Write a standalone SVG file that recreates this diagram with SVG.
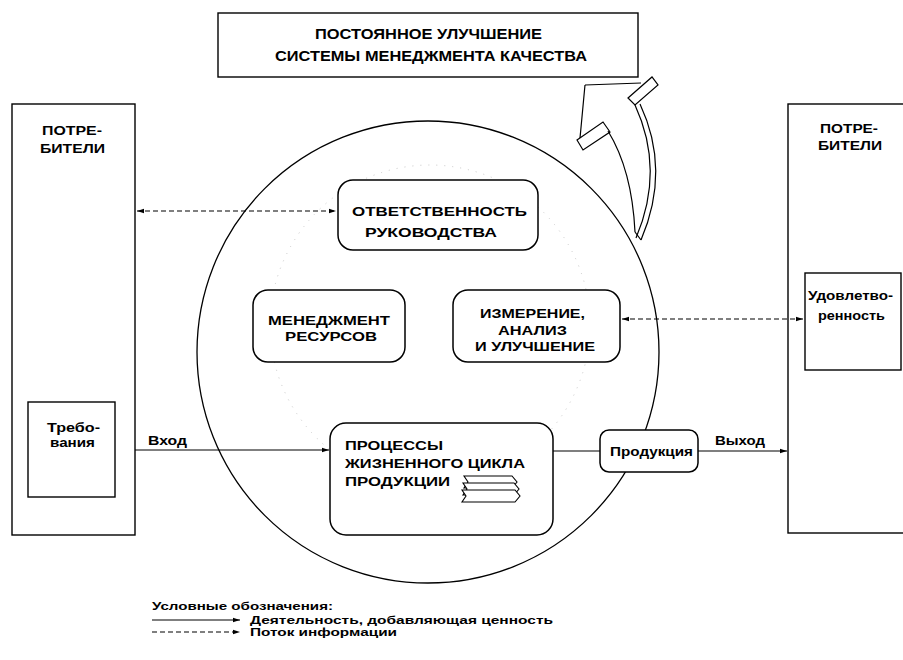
<svg xmlns="http://www.w3.org/2000/svg" width="903" height="660" viewBox="0 0 903 660">
<defs>
<marker id="ah" markerWidth="8" markerHeight="6" refX="7" refY="3" orient="auto" markerUnits="userSpaceOnUse">
<path d="M0,0.8 L7,3 L0,5.2 Z" fill="#000"/>
</marker>
<marker id="as" markerWidth="8" markerHeight="6" refX="1" refY="3" orient="auto" markerUnits="userSpaceOnUse">
<path d="M8,0.8 L1,3 L8,5.2 Z" fill="#000"/>
</marker>
</defs>
<style>
text{font-family:"Liberation Sans","Arial",sans-serif;font-weight:bold;fill:#000;}
.big{font-size:14px;}
.mid{font-size:13px;}
.sm{font-size:12px;}
.lg{font-size:10.5px;}
.box{fill:#fff;stroke:#000;stroke-width:1.4;}
.rbox{fill:#fff;stroke:#000;stroke-width:1.5;}
.ln{fill:none;stroke:#000;stroke-width:1.2;}
.dash{fill:none;stroke:#000;stroke-width:1.2;stroke-dasharray:5,3;}
.arr{fill:none;stroke:#000;stroke-width:1.2;}
</style>
<rect width="903" height="660" fill="#fff"/>

<g id="circle">
<circle cx="428" cy="352" r="231" fill="none" stroke="#000" stroke-width="1.3"/>
<circle cx="430" cy="325" r="160" fill="none" stroke="#c8c8c8" stroke-width="1" stroke-dasharray="1,7"/>
</g>

<g id="improvement-arrow">
<path class="arr" d="M585,85 L641,83"/>
<path class="arr" d="M585,85 L580,138"/>
<path class="arr" d="M628,98 L652,77 L658,85 L635,105 Z"/>
<path class="arr" d="M577,140 L603,122 L610,132 L583,150 Z"/>
<path class="arr" d="M608,131 Q632,170 635,232"/>
<path class="arr" d="M635,105 Q665,170 636,238"/>
<path class="arr" d="M640,104 Q671,170 641,240"/>
<path class="arr" d="M635,232 L641,240"/>
</g>

<g id="top-box">
<rect class="box" x="218" y="13" width="420" height="64"/>
<text class="big" x="315" y="39" textLength="227" lengthAdjust="spacingAndGlyphs">ПОСТОЯННОЕ УЛУЧШЕНИЕ</text>
<text class="big" x="275" y="61" textLength="312" lengthAdjust="spacingAndGlyphs">СИСТЕМЫ МЕНЕДЖМЕНТА КАЧЕСТВА</text>
</g>

<g id="customers-left">
<rect class="box" x="12" y="104" width="123" height="431"/>
<text class="mid" x="42" y="135" textLength="60" lengthAdjust="spacingAndGlyphs">ПОТРЕ-</text>
<text class="mid" x="40" y="153" textLength="65" lengthAdjust="spacingAndGlyphs">БИТЕЛИ</text>
</g>

<g id="requirements">
<rect class="box" x="28" y="402" width="87" height="95"/>
<text class="mid" x="47" y="432" textLength="53" lengthAdjust="spacingAndGlyphs">Требо-</text>
<text class="mid" x="50" y="447" textLength="45" lengthAdjust="spacingAndGlyphs">вания</text>
</g>

<g id="customers-right">
<rect class="box" x="788" y="104" width="130" height="429"/>
<text class="mid" x="820" y="133" textLength="58" lengthAdjust="spacingAndGlyphs">ПОТРЕ-</text>
<text class="mid" x="818" y="150" textLength="64" lengthAdjust="spacingAndGlyphs">БИТЕЛИ</text>
</g>

<g id="satisfaction">
<rect class="box" x="805" y="273" width="96" height="97"/>
<text class="sm" x="808" y="300" textLength="85" lengthAdjust="spacingAndGlyphs">Удовлетво-</text>
<text class="sm" x="818" y="320" textLength="67" lengthAdjust="spacingAndGlyphs">ренность</text>
</g>

<g id="management-responsibility">
<rect class="rbox" x="338" y="180" width="200" height="70" rx="15"/>
<text class="mid" x="352" y="216" textLength="175" lengthAdjust="spacingAndGlyphs">ОТВЕТСТВЕННОСТЬ</text>
<text class="mid" x="365" y="237" textLength="132" lengthAdjust="spacingAndGlyphs">РУКОВОДСТВА</text>
</g>

<g id="resource-management">
<rect class="rbox" x="253" y="290" width="152" height="72" rx="15"/>
<text class="mid" x="268" y="325" textLength="122" lengthAdjust="spacingAndGlyphs">МЕНЕДЖМЕНТ</text>
<text class="mid" x="285" y="341" textLength="92" lengthAdjust="spacingAndGlyphs">РЕСУРСОВ</text>
</g>

<g id="measurement">
<rect class="rbox" x="453" y="290" width="167" height="72" rx="15"/>
<text class="mid" x="480" y="318" textLength="105" lengthAdjust="spacingAndGlyphs">ИЗМЕРЕНИЕ,</text>
<text class="mid" x="498" y="335" textLength="69" lengthAdjust="spacingAndGlyphs">АНАЛИЗ</text>
<text class="mid" x="475" y="351" textLength="120" lengthAdjust="spacingAndGlyphs">И УЛУЧШЕНИЕ</text>
</g>

<g id="product-realization">
<rect class="rbox" x="330" y="423" width="223" height="112" rx="16"/>
<text class="mid" x="345" y="450" textLength="98" lengthAdjust="spacingAndGlyphs">ПРОЦЕССЫ</text>
<text class="mid" x="345" y="468" textLength="180" lengthAdjust="spacingAndGlyphs">ЖИЗНЕННОГО ЦИКЛА</text>
<text class="mid" x="345" y="486" textLength="105" lengthAdjust="spacingAndGlyphs">ПРОДУКЦИИ</text>
<g fill="#fff" stroke="#000" stroke-width="1.1">
<path d="M464,476 L512,476 L517,482 L512,488 L464,488 L468,482 Z"/>
<path d="M463,483 L514,483 L519,489 L514,495 L463,495 L467,489 Z"/>
<path d="M462,490 L515,490 L520,496 L515,502 L462,502 L466,496 Z"/>
</g>
</g>

<g id="product">
<rect class="rbox" x="600" y="430" width="98" height="42" rx="9"/>
<text class="sm" x="610" y="456" textLength="83" lengthAdjust="spacingAndGlyphs">Продукция</text>
</g>

<g id="connectors">
<line class="dash" x1="137" y1="211" x2="336" y2="211" marker-start="url(#as)" marker-end="url(#ah)"/>
<line class="dash" x1="622" y1="319" x2="803" y2="319" marker-start="url(#as)" marker-end="url(#ah)"/>
<line class="ln" x1="135" y1="450" x2="329" y2="450" marker-end="url(#ah)"/>
<line class="ln" x1="553" y1="451" x2="600" y2="451"/>
<line class="ln" x1="698" y1="451" x2="787" y2="451" marker-end="url(#ah)"/>
<text class="sm" x="148" y="445" textLength="39" lengthAdjust="spacingAndGlyphs">Вход</text>
<text class="sm" x="715" y="445" textLength="50" lengthAdjust="spacingAndGlyphs">Выход</text>
</g>

<g id="legend">
<text class="lg" x="152" y="610" textLength="181" lengthAdjust="spacingAndGlyphs">Условные обозначения:</text>
<line class="ln" x1="152" y1="620" x2="240" y2="620" marker-end="url(#ah)"/>
<text class="lg" x="250" y="624" textLength="303" lengthAdjust="spacingAndGlyphs">Деятельность, добавляющая ценность</text>
<line class="dash" x1="152" y1="632" x2="240" y2="632" marker-end="url(#ah)"/>
<text class="lg" x="250" y="636" textLength="147" lengthAdjust="spacingAndGlyphs">Поток информации</text>
</g>
</svg>
